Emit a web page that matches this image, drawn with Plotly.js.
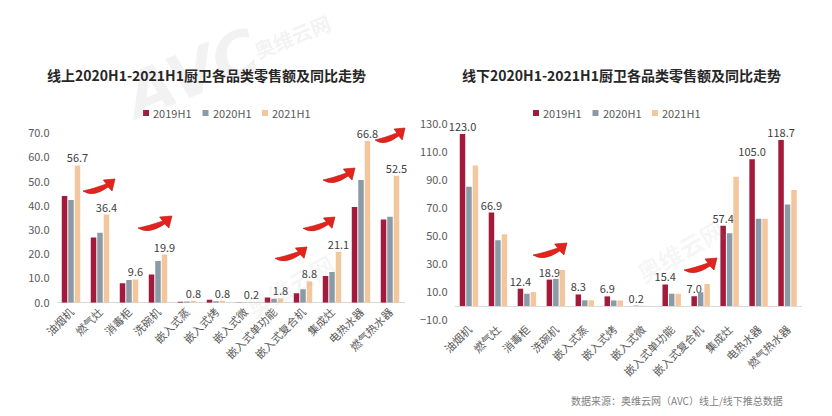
<!DOCTYPE html>
<html>
<head>
<meta charset="utf-8">
<script src="https://cdn.plot.ly/plotly-3.0.1.min.js"></script>
<style>html,body{margin:0;padding:0;background:#fff;}#chart{width:832px;height:416px;}</style>
</head>
<body>
<div id="chart"></div>
<script>
const categories = ['油烟机','燃气灶','消毒柜','洗碗机','嵌入式蒸','嵌入式烤','嵌入式微','嵌入式单功能','嵌入式复合机','集成灶','电热水器','燃气热水器'];
const seriesNames = ['2019H1','2020H1','2021H1'];
const online2019 = [44.1, 26.9, 8.0, 11.7, 0.4, 1.2, 0.1, 2.1, 3.9, 11.0, 39.5, 34.4];
const online2020 = [42.4, 28.9, 9.4, 17.2, 0.5, 0.6, 0.1, 1.6, 5.6, 12.7, 50.7, 35.5];
const online2021 = [56.7, 36.4, 9.6, 19.9, 0.8, 0.8, 0.2, 1.8, 8.8, 21.1, 66.8, 52.5];
const offline2019 = [123.0, 66.9, 12.4, 18.9, 8.3, 6.9, 0.2, 15.4, 7.0, 57.4, 105.0, 118.7];
const offline2020 = [85.3, 47.1, 8.8, 19.4, 4.1, 4.0, 0.1, 8.8, 9.8, 52.1, 62.4, 72.7];
const offline2021 = [100.6, 51.4, 10.0, 25.8, 4.1, 4.0, 0.1, 8.8, 15.8, 92.5, 62.4, 83.0];

const colors = ['#A31B3C', '#8A9BA7', '#F3C79D'];
const W = 832, H = 416;
const FONT = '"Noto Sans CJK SC", "Microsoft YaHei", sans-serif';
const fmt = v => v.toFixed(1);

function mk(y, i, xa, ya, withText) {
  const t = {
    type: 'bar', x: categories, y: y, name: seriesNames[i],
    xaxis: xa, yaxis: ya, showlegend: false,
    marker: {color: colors[i]},
    hoverinfo: 'x+y+name'
  };
  if (withText) {
    t.text = y.map(fmt);
    t.textposition = 'outside';
    t.constraintext = 'none';
    t.cliponaxis = false;
    t.textfont = {size: 11, color: '#404040', family: FONT};
  }
  return t;
}

const data = [
  mk(online2019, 0, 'x', 'y', false),
  mk(online2020, 1, 'x', 'y', false),
  mk(online2021, 2, 'x', 'y', true),
  mk(offline2019, 0, 'x2', 'y2', true),
  mk(offline2020, 1, 'x2', 'y2', false),
  mk(offline2021, 2, 'x2', 'y2', false)
];

const px = x => x / W;
const py = y => 1 - y / H;

// decorative curved red arrows
function arrowPath(x0, y0, w, h) {
  const sx = w / 33, sy = h / 19;
  const P = (a, b) => px(x0 + a * sx).toFixed(5) + ',' + py(y0 + b * sy).toFixed(5);
  return 'M' + P(0,12) + ' Q' + P(10,19) + ' ' + P(26,8) + ' L' + P(30,12) +
    ' L' + P(33,0) + ' L' + P(21,1) + ' L' + P(24,5) + ' Q' + P(10,10) + ' ' + P(0,12) + ' Z';
}
const arrowBoxes = [
  [83,179,32,19],[138,216,34,19],[275,247,32,18],[303,217,32,18],
  [323,168,32,19],[375,128,30,19],[533,243,34,19],[684,258,33,19]
];
const shapes = arrowBoxes.map(b => ({
  type: 'path', xref: 'paper', yref: 'paper', path: arrowPath(b[0], b[1], b[2], b[3]),
  fillcolor: '#E3231C', line: {color: '#B01510', width: 0.6}, layer: 'above'
}));

const axisFont = {size: 11, color: '#595959', family: FONT};
const legFont = {size: 11, color: '#595959', family: FONT};
const wm = 'rgba(165,165,165,0.14)';

const annotations = [
  {text: 'AVC', xref: 'paper', yref: 'paper', x: px(190), y: py(74), xanchor: 'center', yanchor: 'middle',
    showarrow: false, textangle: -22,
    font: {size: 62, color: wm, family: 'DejaVu Sans', weight: 'bold', style: 'italic'}},
  {text: '奥维云网', xref: 'paper', yref: 'paper', x: px(292), y: py(36), xanchor: 'center', yanchor: 'middle',
    showarrow: false, textangle: -22, font: {size: 20, color: wm, family: FONT, weight: 'bold'}},
  {text: '奥维云网', xref: 'paper', yref: 'paper', x: px(290), y: py(285), xanchor: 'center', yanchor: 'middle',
    showarrow: false, textangle: -30, font: {size: 24, color: 'rgba(165,165,165,0.10)', family: FONT, weight: 'bold'}},
  {text: '奥维云网', xref: 'paper', yref: 'paper', x: px(680), y: py(250), xanchor: 'center', yanchor: 'middle',
    showarrow: false, textangle: -30, font: {size: 24, color: 'rgba(165,165,165,0.10)', family: FONT, weight: 'bold'}},
  {text: '线上2020H1-2021H1厨卫各品类零售额及同比走势', xref: 'paper', yref: 'paper',
    x: px(206), y: py(75), xanchor: 'center', yanchor: 'middle', showarrow: false,
    font: {size: 14, color: '#262626', family: FONT, weight: 'bold'}},
  {text: '线下2020H1-2021H1厨卫各品类零售额及同比走势', xref: 'paper', yref: 'paper',
    x: px(621), y: py(75), xanchor: 'center', yanchor: 'middle', showarrow: false,
    font: {size: 14, color: '#262626', family: FONT, weight: 'bold'}},
  {text: '数据来源：奥维云网（AVC）线上/线下推总数据', xref: 'paper', yref: 'paper',
    x: px(677), y: py(400), xanchor: 'center', yanchor: 'middle', showarrow: false,
    font: {size: 10, color: '#808080', family: FONT}}
];

// compact legends (square + label) for each panel
const legendStarts = [143, 533];
const legendStep = 59.5, legendY = 113, sq = 6;
legendStarts.forEach(x0 => {
  seriesNames.forEach((name, i) => {
    const x = x0 + i * legendStep;
    shapes.push({type: 'rect', xref: 'paper', yref: 'paper',
      x0: px(x), x1: px(x + sq), y0: py(legendY + sq / 2), y1: py(legendY - sq / 2),
      fillcolor: colors[i], line: {width: 0}});
    annotations.push({text: name, xref: 'paper', yref: 'paper', x: px(x + sq + 2), y: py(legendY),
      xanchor: 'left', yanchor: 'middle', showarrow: false, font: legFont});
  });
});

const layout = {
  width: W, height: H,
  margin: {l: 0, r: 0, t: 0, b: 0},
  paper_bgcolor: '#ffffff', plot_bgcolor: '#ffffff',
  barmode: 'group', bargap: 0.33, bargroupgap: 0.15,
  font: {family: FONT},
  showlegend: false,
  xaxis: {domain: [px(56.5), px(404.5)], type: 'category', tickangle: -45, tickfont: axisFont,
    showline: false, showgrid: false, ticks: '', anchor: 'y', fixedrange: true},
  yaxis: {domain: [py(302.7), py(133.3)], range: [0, 70], dtick: 10, tickformat: '.1f',
    tickfont: axisFont, showgrid: false, showline: false, zeroline: true, zerolinecolor: '#d9d9d9',
    zerolinewidth: 1, ticks: '', anchor: 'x', fixedrange: true, ticklabelstandoff: 6},
  xaxis2: {domain: [px(454.5), px(802)], type: 'category', tickangle: -45, tickfont: axisFont,
    showline: false, showgrid: false, ticks: '', anchor: 'y2', fixedrange: true},
  yaxis2: {domain: [py(320), py(124.3)], range: [-10, 130], tick0: -10, dtick: 20, tickformat: '.1f',
    tickfont: axisFont, showgrid: false, showline: false, zeroline: true, zerolinecolor: '#d9d9d9',
    zerolinewidth: 1, ticks: '', anchor: 'x2', fixedrange: true, ticklabelstandoff: 6},
  shapes: shapes,
  annotations: annotations
};

Plotly.newPlot('chart', data, layout, {displayModeBar: false, staticPlot: true});
</script>
</body>
</html>
